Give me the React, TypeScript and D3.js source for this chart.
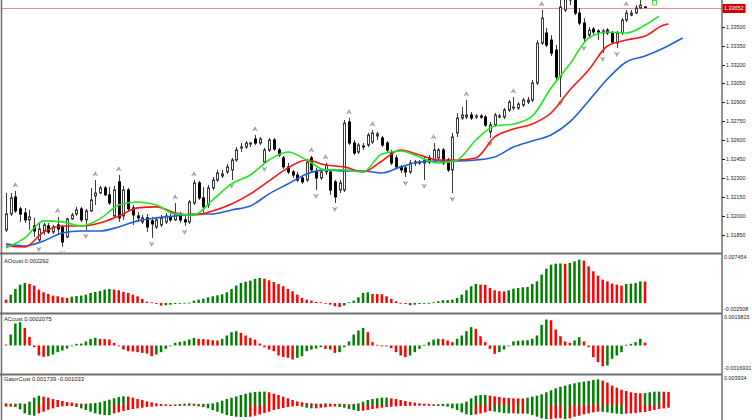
import { useMemo } from 'react';
import * as d3 from 'd3';

const size = { width: 752, height: 420 };
const AXIS_X = 722;

// vertical bands of the four windows
const panel = {
  main: { top: 0, bottom: 252 },
  ao: { top: 255, bottom: 312 },
  ac: { top: 315, bottom: 373 },
  gator: { top: 376, bottom: 420 },
};

const color = {
  bull: '#ffffff',
  bear: '#000000',
  wick: '#3a3a3a',
  up: '#008000',
  down: '#ff0000',
  jaw: '#1f5fd8',
  teeth: '#ff1414',
  lips: '#22e622',
  frame: '#6e6e6e',
  fractal: '#a8a8a8',
  bid: '#f08a8a',
  text: '#1a1a1a',
};

// ---- price data (one value per bar) ----
const open = [
  1.31889, 1.32016, 1.32151, 1.32056, 1.32024, 1.31969, 1.31921, 1.3181, 1.31881, 1.31921,
  1.31873, 1.31929, 1.31913, 1.31834, 1.31977, 1.32016, 1.32056, 1.31969, 1.3204, 1.32159,
  1.32182, 1.32222, 1.32167, 1.32, 1.3227, 1.32, 1.32206, 1.32064, 1.32, 1.31953,
  1.31985, 1.31961, 1.31913, 1.31929, 1.31953, 1.31993, 1.31969, 1.32008, 1.31969, 1.31953,
  1.32103, 1.32262, 1.32143, 1.32087, 1.32222, 1.32285, 1.32317, 1.32349, 1.32365, 1.32444,
  1.32539, 1.32547, 1.3257, 1.3261, 1.32578, 1.32428, 1.32523, 1.32602, 1.32523, 1.3246,
  1.32389, 1.32349, 1.32325, 1.32301, 1.32285, 1.3246, 1.32349, 1.32301, 1.32349, 1.32349,
  1.3227, 1.32206, 1.32206, 1.32745, 1.32578, 1.32507, 1.32554, 1.32562, 1.32586, 1.32634,
  1.32618, 1.32578, 1.32499, 1.3246, 1.32389, 1.32381, 1.32349, 1.32428, 1.32428, 1.3242,
  1.3246, 1.32444, 1.3246, 1.32523, 1.32444, 1.32365, 1.32658, 1.32776, 1.32784, 1.328,
  1.32784, 1.32792, 1.32784, 1.32666, 1.32721, 1.32784, 1.32784, 1.3284, 1.32856, 1.32856,
  1.32879, 1.32903, 1.32919, 1.33054, 1.3337, 1.3345, 1.33394, 1.33315, 1.33101, 1.33632,
  1.33711, 1.33751, 1.33608, 1.33529, 1.33434, 1.33481, 1.33466, 1.3345, 1.33473, 1.3345,
  1.3337, 1.3345, 1.33553, 1.33592, 1.33608, 1.33648, 1.33656,
];
const high = [
  1.32182, 1.32182, 1.32198, 1.32072, 1.32064, 1.32048, 1.31985, 1.31945, 1.31945, 1.31945,
  1.31929, 1.31993, 1.31929, 1.31985, 1.32024, 1.32072, 1.32072, 1.32056, 1.32222, 1.32285,
  1.32238, 1.32238, 1.3223, 1.32238, 1.32325, 1.32238, 1.32222, 1.32087, 1.32032, 1.32008,
  1.32016, 1.31993, 1.31993, 1.32008, 1.32024, 1.32032, 1.32103, 1.32032, 1.32016, 1.32127,
  1.32285, 1.32278, 1.3223, 1.32246, 1.32309, 1.32365, 1.32365, 1.32412, 1.3246, 1.32547,
  1.32578, 1.32594, 1.32586, 1.32642, 1.32626, 1.32539, 1.32618, 1.32618, 1.32539, 1.32476,
  1.3242, 1.32365, 1.32349, 1.32317, 1.32444, 1.32476, 1.32381, 1.32365, 1.3242, 1.32365,
  1.32285, 1.32285, 1.32761, 1.32776, 1.32602, 1.32578, 1.32578, 1.32658, 1.32681, 1.32666,
  1.32634, 1.32594, 1.32523, 1.32483, 1.32404, 1.32396, 1.32444, 1.32444, 1.32444, 1.32468,
  1.32483, 1.32578, 1.32539, 1.32539, 1.3246, 1.32658, 1.32816, 1.32864, 1.32919, 1.32824,
  1.32808, 1.32808, 1.328, 1.32745, 1.32816, 1.32808, 1.32856, 1.32919, 1.32943, 1.32903,
  1.32935, 1.32943, 1.33077, 1.33394, 1.33632, 1.33489, 1.33434, 1.33355, 1.33711, 1.3383,
  1.33869, 1.33806, 1.33648, 1.33568, 1.33497, 1.33497, 1.33481, 1.33481, 1.33489, 1.33466,
  1.33466, 1.33568, 1.33632, 1.33632, 1.33671, 1.33727, 1.33663,
];
const low = [
  1.31873, 1.32, 1.32024, 1.31953, 1.31945, 1.31889, 1.31834, 1.31786, 1.3185, 1.31858,
  1.31858, 1.31858, 1.31755, 1.31826, 1.31969, 1.32, 1.31953, 1.31889, 1.32032, 1.32087,
  1.32175, 1.32159, 1.32087, 1.31985, 1.31953, 1.31969, 1.32032, 1.31929, 1.31953, 1.31937,
  1.31873, 1.31826, 1.31897, 1.31913, 1.31937, 1.31953, 1.31961, 1.31945, 1.31921, 1.31937,
  1.32087, 1.32127, 1.32024, 1.32064, 1.32206, 1.3227, 1.32301, 1.32333, 1.32285, 1.32428,
  1.32507, 1.32531, 1.32547, 1.32562, 1.32562, 1.3242, 1.32507, 1.32515, 1.32468, 1.32373,
  1.32333, 1.32301, 1.3227, 1.32254, 1.3227, 1.32341, 1.32206, 1.32285, 1.32325, 1.32167,
  1.32103, 1.32182, 1.3219, 1.32562, 1.32483, 1.32491, 1.32523, 1.32547, 1.3257, 1.32602,
  1.32547, 1.32507, 1.32404, 1.32373, 1.32341, 1.32309, 1.32333, 1.32396, 1.32404, 1.32285,
  1.32412, 1.32428, 1.32444, 1.32404, 1.32349, 1.32182, 1.32626, 1.32761, 1.32768, 1.32761,
  1.32768, 1.32768, 1.32705, 1.32618, 1.32705, 1.32776, 1.32768, 1.32824, 1.3284, 1.3284,
  1.32864, 1.32887, 1.32903, 1.33038, 1.33355, 1.33339, 1.33268, 1.33077, 1.32943, 1.33616,
  1.33671, 1.33592, 1.33513, 1.33378, 1.33418, 1.33434, 1.33394, 1.33291, 1.33434, 1.33363,
  1.33331, 1.33434, 1.33537, 1.33584, 1.336, 1.3364, 1.33648,
];
const close = [
  1.32016, 1.32143, 1.3204, 1.32016, 1.31969, 1.31993, 1.31881, 1.31897, 1.31929, 1.31873,
  1.31913, 1.31897, 1.31794, 1.31977, 1.32008, 1.32048, 1.31969, 1.3204, 1.32127, 1.32182,
  1.32222, 1.32167, 1.32103, 1.32206, 1.31985, 1.32206, 1.32056, 1.32008, 1.31985, 1.31985,
  1.31913, 1.31937, 1.31969, 1.31985, 1.32, 1.31969, 1.32016, 1.31969, 1.31953, 1.32111,
  1.32262, 1.32143, 1.32072, 1.32222, 1.32285, 1.32341, 1.32333, 1.32389, 1.32444, 1.32523,
  1.32547, 1.32578, 1.32578, 1.32578, 1.3261, 1.32523, 1.32602, 1.32531, 1.32483, 1.32389,
  1.32349, 1.32325, 1.32285, 1.3227, 1.32428, 1.32365, 1.32301, 1.32349, 1.32404, 1.32206,
  1.32151, 1.32262, 1.32737, 1.32578, 1.32499, 1.32562, 1.32547, 1.32642, 1.32658, 1.3265,
  1.32562, 1.32523, 1.3242, 1.32389, 1.32365, 1.32349, 1.3242, 1.3242, 1.3242, 1.32444,
  1.32428, 1.32523, 1.32523, 1.3242, 1.32365, 1.32626, 1.32776, 1.328, 1.328, 1.32776,
  1.32792, 1.32784, 1.32721, 1.32721, 1.328, 1.32792, 1.3284, 1.32903, 1.32864, 1.32887,
  1.32919, 1.32919, 1.33054, 1.3337, 1.33568, 1.33355, 1.33291, 1.33101, 1.33656, 1.33751,
  1.3379, 1.33608, 1.33529, 1.3341, 1.33473, 1.33458, 1.33458, 1.33466, 1.3345, 1.33378,
  1.3345, 1.33553, 1.33608, 1.33608, 1.33648, 1.33671, 1.33652,
];

const bidPrice = 1.33652;
const priceTicks = [1.335, 1.3335, 1.332, 1.3305, 1.329, 1.3275, 1.326, 1.3245, 1.323, 1.3215, 1.32, 1.3185];

// bar numbers carrying a fractal mark
const upFractals = [2, 11, 19, 24, 36, 40, 53, 65, 68, 73, 78, 91, 98, 108, 114, 132];
const downFractals = [7, 12, 17, 31, 38, 48, 55, 66, 70, 85, 89, 95, 103, 118, 123, 127, 130];

// Alligator lines, read every 4th bar; the last value sits on the shifted end bar
const ALLIGATOR_STEP = 4;
const jaw = [
  1.31779, 1.31762, 1.31802, 1.31865, 1.31881, 1.31881, 1.31913, 1.31961, 1.31985, 1.32,
  1.32016, 1.32016, 1.32048, 1.32079, 1.32175, 1.32254, 1.32333, 1.32365, 1.32357, 1.32357,
  1.32341, 1.32389, 1.32428, 1.32436, 1.32436, 1.32444, 1.32468, 1.32547, 1.32594, 1.32642,
  1.32745, 1.32911, 1.33085, 1.3322, 1.33267, 1.33331, 1.3341,
];
const teeth = [
  1.31762, 1.31755, 1.31873, 1.31921, 1.31921, 1.31945, 1.32, 1.32064, 1.32072, 1.32024,
  1.32008, 1.3204, 1.32095, 1.32175, 1.32278, 1.32381, 1.32444, 1.32404, 1.32389, 1.32349,
  1.32436, 1.32523, 1.32483, 1.32444, 1.32444, 1.3246, 1.32626, 1.32689, 1.32729, 1.32816,
  1.32998, 1.33157, 1.33347, 1.33394, 1.33426, 1.33513, 1.33521,
];
const lips = [
  1.31747, 1.31826, 1.31961, 1.31953, 1.31921, 1.31977, 1.32087, 1.32111, 1.32087, 1.32016,
  1.32008, 1.32127, 1.32254, 1.32325, 1.32444, 1.32507, 1.32444, 1.32365, 1.32365, 1.32349,
  1.32491, 1.32515, 1.32468, 1.3242, 1.32444, 1.32602, 1.32713, 1.32729, 1.32792, 1.33014,
  1.33204, 1.3341, 1.33458, 1.3345, 1.33513, 1.33584,
];
const shifts = { jaw: 8, teeth: 5, lips: 3 };

// ---- indicator windows ----
const aoValues = [
  0.00057, 0.00143, 0.00241, 0.00315, 0.00344, 0.00327, 0.00298, 0.00229, 0.00183, 0.00155,
  0.00126, 0.00115, 0.00097, 0.00086, 0.00109, 0.0012, 0.00126, 0.00143, 0.00172, 0.00189,
  0.00206, 0.00229, 0.00241, 0.00229, 0.00218, 0.00189, 0.00172, 0.00143, 0.00115, 0.00069,
  0.00023, 0.00011, -0.00017, -0.00046, -0.0004, -0.00029, -0.00017, -0.00006, 0.00003, 0.00006,
  0.0004, 0.00057, 0.00074, 0.00097, 0.00115, 0.00132, 0.00149, 0.00183, 0.00241, 0.00298,
  0.00344, 0.00367, 0.00384, 0.00413, 0.0043, 0.00418, 0.0039, 0.00361, 0.00327, 0.00287,
  0.00241, 0.00201, 0.00143, 0.00086, 0.00057, 0.0004, 0.00017, 0.00011, -0.00002, -0.00029,
  -0.00057, -0.00069, -0.00046, 0.00011, 0.0004, 0.00097, 0.00172, 0.00183, 0.00155, 0.00153,
  0.0015, 0.00115, 0.00069, 0.00029, 0.00002, -0.00017, -0.0004, -0.00029, -0.00017, -0.00011,
  0.00001, 0.00011, 0.00029, 0.00046, 0.00048, 0.00057, 0.00086, 0.00143, 0.00218, 0.00287,
  0.00327, 0.00315, 0.00312, 0.00258, 0.00218, 0.00201, 0.00198, 0.00218, 0.00246, 0.00258,
  0.00269, 0.00275, 0.00327, 0.00372, 0.00487, 0.0059, 0.00659, 0.00676, 0.0068, 0.00674,
  0.00688, 0.00716, 0.00745, 0.00728, 0.0063, 0.00544, 0.0047, 0.00401, 0.00372, 0.00332,
  0.00315, 0.00298, 0.00327, 0.00332, 0.00344, 0.00372, 0.00367,
];
const acValues = [
  0.00007, 0.00079, 0.00158, 0.00168, 0.00127, 0.00062, -0.00012, -0.00072, -0.00082, -0.00077,
  -0.00065, -0.00048, -0.00036, -0.00022, -0.00005, 0.00012, 0.00014, 0.00029, 0.00048, 0.00055,
  0.00048, 0.00046, 0.00043, 0.00019, -0.00005, -0.00029, -0.00041, -0.00043, -0.00048, -0.00053,
  -0.00058, -0.00077, -0.00065, -0.00048, -0.00024, -0.00005, 0.00019, 0.00026, 0.00031, 0.00043,
  0.00055, 0.00048, 0.00046, 0.00043, 0.00038, 0.00036, 0.00048, 0.00072, 0.00096, 0.00103,
  0.00091, 0.00072, 0.00055, 0.00043, 0.00014, -0.00012, -0.00029, -0.00041, -0.00072, -0.00082,
  -0.00089, -0.00101, -0.00089, -0.00077, -0.00041, -0.00029, -0.00022, -0.00012, -0.00024, -0.00029,
  -0.00053, -0.00048, -0.00012, 0.00029, 0.00079, 0.00108, 0.00127, 0.00096, 0.00024, 0.00005,
  0.0, -0.00007, -0.00019, -0.00048, -0.00072, -0.00084, -0.00072, -0.00048, -0.00024, 0.00005,
  0.00024, 0.00043, 0.00048, 0.00046, 0.00036, 0.00024, 0.00048, 0.00072, 0.00103, 0.00132,
  0.0012, 0.00067, 0.00024, -0.00024, -0.0006, -0.00048, -0.00029, -0.00005, 0.00029, 0.00034,
  0.00036, 0.00038, 0.00048, 0.00072, 0.00149, 0.00187, 0.00182, 0.00115, 0.00067, 0.00029,
  0.00019, 0.00036, 0.0006, 0.00029, -0.00012, -0.00084, -0.0012, -0.00149, -0.00144, -0.00096,
  -0.00072, -0.00048, 0.00005, 0.00012, 0.00024, 0.00048, 0.00021,
];
const gatorUpper = [
  0.00024, 0.00019, 0.00019, 0.00024, 0.00019, 0.00049, 0.00107, 0.00136, 0.00122, 0.00107,
  0.00087, 0.00073, 0.00058, 0.00044, 0.00034, 0.00024, 0.00019, 0.00019, 0.00024, 0.00029,
  0.00039, 0.00058, 0.00078, 0.00097, 0.00117, 0.00126, 0.00122, 0.00107, 0.00087, 0.00073,
  0.00053, 0.00039, 0.00024, 0.00015, 0.0001, 0.00005, 0.0001, 0.00015, 0.00019, 0.00024,
  0.00019, 0.00015, 0.00015, 0.00019, 0.00024, 0.00039, 0.00063, 0.00087, 0.00107, 0.00126,
  0.00146, 0.00165, 0.0018, 0.0019, 0.00194, 0.00195, 0.00185, 0.00165, 0.00146, 0.00122,
  0.00097, 0.00073, 0.00053, 0.00039, 0.00029, 0.00024, 0.00019, 0.00019, 0.00024, 0.00019,
  0.00015, 0.00019, 0.00015, 0.0001, 0.00015, 0.00024, 0.00049, 0.00073, 0.00087, 0.00097,
  0.00107, 0.00108, 0.00097, 0.00087, 0.00073, 0.00058, 0.00044, 0.00034, 0.00024, 0.00019,
  0.00015, 0.0001, 0.0001, 0.00015, 0.00019, 0.0002, 0.00021, 0.00024, 0.00049, 0.00097,
  0.00136, 0.00146, 0.00147, 0.00136, 0.00126, 0.00117, 0.00107, 0.00102, 0.00097, 0.00096,
  0.00095, 0.00107, 0.00122, 0.00136, 0.00156, 0.00185, 0.00214, 0.00243, 0.00267, 0.00282,
  0.00301, 0.00316, 0.0033, 0.0034, 0.0035, 0.00365, 0.00374, 0.00355, 0.00326, 0.00282,
  0.00253, 0.00224, 0.00204, 0.00185, 0.00175, 0.0017, 0.00174, 0.00185, 0.00194, 0.00195,
  0.00194, 0.0019,
];
const gatorLower = [
  -0.00024, -0.00025, -0.00029, -0.00063, -0.00122, -0.00146, -0.00156, -0.00122, -0.00097, -0.00068,
  -0.00049, -0.00029, -0.00019, -0.00015, -0.00014, -0.00029, -0.00049, -0.00073, -0.00097, -0.00122,
  -0.00136, -0.00146, -0.00147, -0.00122, -0.00107, -0.00087, -0.00073, -0.00058, -0.00049, -0.00039,
  -0.00029, -0.00024, -0.00019, -0.00015, -0.0001, -0.00015, -0.0001, -0.00009, -0.00008, -0.00005,
  -0.0001, -0.00019, -0.00029, -0.00049, -0.00073, -0.00097, -0.00122, -0.00146, -0.0016, -0.0017,
  -0.00175, -0.00176, -0.0017, -0.00156, -0.00136, -0.00117, -0.00097, -0.00073, -0.00058, -0.00044,
  -0.00029, -0.00019, -0.00015, -0.00024, -0.00039, -0.00049, -0.00048, -0.00039, -0.00034, -0.00024,
  -0.00023, -0.00029, -0.00039, -0.00058, -0.00073, -0.00087, -0.00083, -0.00073, -0.00058, -0.00049,
  -0.00039, -0.00029, -0.00024, -0.00019, -0.00015, -0.00014, -0.0001, -0.00009, -0.00008, -0.00005,
  -0.00004, -0.0001, -0.00015, -0.00016, -0.00024, -0.00049, -0.00073, -0.00107, -0.00136, -0.00146,
  -0.00136, -0.00122, -0.00107, -0.00087, -0.00097, -0.00107, -0.00117, -0.00122, -0.00121, -0.00126,
  -0.00125, -0.00127, -0.00146, -0.0017, -0.00194, -0.00204, -0.00203, -0.00194, -0.00193, -0.00204,
  -0.00194, -0.0017, -0.00156, -0.00136, -0.00122, -0.00107, -0.00097, -0.00098, -0.00107, -0.00117,
  -0.00126, -0.00131, -0.00126, -0.00122, -0.00117, -0.00107, -0.00103, -0.00087, -0.00073, -0.00058,
  -0.00049, -0.00039,
];

const titles = ['AOcust 0.002292', 'ACcust 0.0002075', 'GatorCust 0.001739 -0.001033'];
const aoScaleLabels = ['0.007454', '-0.002508'];
const acScaleLabels = ['0.0019815', '-0.0016931'];
const gatorScaleLabels = ['0.003934'];

const FONT = '"Liberation Sans", Arial, sans-serif';

// green when the bar grew against the one before it, red otherwise
const barColor = (vals: number[], i: number) =>
  i > 0 && Math.abs(vals[i]) > Math.abs(vals[i - 1]) ? color.up : color.down;
const signedColor = (vals: number[], i: number) => (i > 0 && vals[i] > vals[i - 1] ? color.up : color.down);

const App = () => {
  const lastBar = close.length - 1;

  const xScale = useMemo(() => d3.scaleLinear().domain([0, 136]).range([6, 645]), []);
  const yPrice = useMemo(() => d3.scaleLinear().domain([1.3185, 1.335]).range([234.9, 26.7]), []);
  const yAO = useMemo(() => d3.scaleLinear().domain([-0.0008, 0.0076]).range([307.6, 258.8]), []);
  const yAC = useMemo(() => d3.scaleLinear().domain([-0.0016931, 0.0019815]).range([369, 318]), []);
  const yGator = useMemo(() => d3.scaleLinear().domain([-0.003, 0.003934]).range([425.6, 378]), []);

  const px = (i: number) => Math.round(xScale(i)) + 0.5;

  const alligatorPath = (vals: number[], shift: number) => {
    const end = lastBar + shift;
    const line = d3
      .line<number>()
      .curve(d3.curveMonotoneX)
      .x((_, j) => xScale(j === vals.length - 1 ? end : j * ALLIGATOR_STEP))
      .y(v => yPrice(v));
    return line(vals) || '';
  };

  const histogram = (vals: number[], y: d3.ScaleLinear<number, number>, fill: (i: number) => string) =>
    vals.map((v, i) => {
      const y0 = y(0);
      const y1 = y(v);
      return (
        <rect
          key={i}
          x={xScale(i) - 1.25}
          y={Math.min(y0, y1)}
          width={2.5}
          height={Math.max(Math.abs(y1 - y0), 0.8)}
          fill={fill(i)}
        />
      );
    });

  const fractalUp = 'M0,-3L3,2.5L0,1L-3,2.5Z';
  const fractalDown = 'M0,3L3,-2.5L0,-1L-3,-2.5Z';

  const bidY = Math.round(yPrice(bidPrice)) + 0.5;

  return (
    <div style={{ position: 'absolute', left: 0, top: 0 }}>
      <svg width={size.width} height={size.height} style={{ display: 'block', background: '#fff' }}>
        <defs>
          <clipPath id="clipMain">
            <rect x={2} y={panel.main.top} width={AXIS_X - 2} height={panel.main.bottom - panel.main.top} />
          </clipPath>
          <clipPath id="clipAO">
            <rect x={2} y={panel.ao.top} width={AXIS_X - 2} height={panel.ao.bottom - panel.ao.top} />
          </clipPath>
          <clipPath id="clipAC">
            <rect x={2} y={panel.ac.top} width={AXIS_X - 2} height={panel.ac.bottom - panel.ac.top} />
          </clipPath>
          <clipPath id="clipGator">
            <rect x={2} y={panel.gator.top} width={AXIS_X - 2} height={panel.gator.bottom - panel.gator.top} />
          </clipPath>
        </defs>

        {/* main window */}
        <g clipPath="url(#clipMain)">
          <line x1={0} x2={AXIS_X} y1={bidY} y2={bidY} stroke={color.bid} strokeWidth={1} />
          {close.map((c, i) => {
            const o = open[i];
            const x = px(i);
            const bull = c >= o;
            const top = yPrice(Math.max(o, c));
            const bot = yPrice(Math.min(o, c));
            return (
              <g key={i}>
                <line x1={x} x2={x} y1={yPrice(high[i])} y2={yPrice(low[i])} stroke={color.wick} strokeWidth={1} />
                <rect
                  x={x - 1}
                  y={top}
                  width={2}
                  height={Math.max(bot - top, 0.5)}
                  fill={bull ? color.bull : color.bear}
                  stroke={bull ? color.wick : color.bear}
                  strokeWidth={1}
                />
              </g>
            );
          })}
          {upFractals.map(i => (
            <path key={`u${i}`} d={fractalUp} transform={`translate(${xScale(i)},${yPrice(high[i]) - 6})`} fill={color.fractal} />
          ))}
          {downFractals.map(i => (
            <path key={`d${i}`} d={fractalDown} transform={`translate(${xScale(i)},${yPrice(low[i]) + 6})`} fill={color.fractal} />
          ))}
          <path d={alligatorPath(jaw, shifts.jaw)} fill="none" stroke={color.jaw} strokeWidth={1.6} />
          <path d={alligatorPath(teeth, shifts.teeth)} fill="none" stroke={color.teeth} strokeWidth={1.6} />
          <path d={alligatorPath(lips, shifts.lips)} fill="none" stroke={color.lips} strokeWidth={1.6} />
          <rect x={xScale(lastBar + 2) - 2} y={0.5} width={4} height={4.5} fill="none" stroke="#33cc33" strokeWidth={0.8} />
        </g>

        {/* indicator windows */}
        <g clipPath="url(#clipAO)">{histogram(aoValues, yAO, i => signedColor(aoValues, i))}</g>
        <g clipPath="url(#clipAC)">{histogram(acValues, yAC, i => signedColor(acValues, i))}</g>
        <g clipPath="url(#clipGator)">
          {histogram(gatorUpper, yGator, i => barColor(gatorUpper, i))}
          {histogram(gatorLower, yGator, i => barColor(gatorLower, i))}
        </g>

        {/* frame */}
        {[panel.main.bottom + 1.5, panel.ao.bottom + 1.5, panel.ac.bottom + 1.5].map(y => (
          <line key={y} x1={0} x2={AXIS_X} y1={y} y2={y} stroke={color.frame} strokeWidth={2} />
        ))}
        <line x1={1.5} x2={1.5} y1={0} y2={size.height} stroke={color.frame} strokeWidth={1.5} />
        <line x1={AXIS_X} x2={AXIS_X} y1={0} y2={size.height} stroke={color.frame} strokeWidth={1.5} />

        {/* price axis */}
        <g fontFamily={FONT} fontSize={5.4} fill={color.text}>
          {priceTicks.map(p => {
            const y = Math.round(yPrice(p)) + 0.5;
            return (
              <g key={p}>
                <line x1={AXIS_X} x2={AXIS_X + 3} y1={y} y2={y} stroke={color.text} strokeWidth={1} />
                <text x={AXIS_X + 4} y={y} dominantBaseline="middle">
                  {p.toFixed(5)}
                </text>
              </g>
            );
          })}
          <rect x={AXIS_X + 0.5} y={bidY - 4.5} width={23} height={9} fill="#d40000" />
          <text x={AXIS_X + 2} y={bidY} dominantBaseline="middle" fill="#fff">
            {bidPrice.toFixed(5)}
          </text>
        </g>

        {/* window scales and titles */}
        <g fontFamily={FONT} fontSize={5.4} fill={color.text}>
          <text x={AXIS_X + 2} y={panel.ao.top + 3} dominantBaseline="middle">{aoScaleLabels[0]}</text>
          <text x={AXIS_X + 2} y={panel.ao.bottom - 2.5} dominantBaseline="middle">{aoScaleLabels[1]}</text>
          <text x={AXIS_X + 2} y={panel.ac.top + 3} dominantBaseline="middle">{acScaleLabels[0]}</text>
          <text x={AXIS_X + 2} y={panel.ac.bottom - 4} dominantBaseline="middle">{acScaleLabels[1]}</text>
          <text x={AXIS_X + 2} y={panel.gator.top + 2.5} dominantBaseline="middle">{gatorScaleLabels[0]}</text>
          <text x={4} y={panel.ao.top + 6} dominantBaseline="middle" fontSize={5.8}>{titles[0]}</text>
          <text x={4} y={panel.ac.top + 4} dominantBaseline="middle" fontSize={5.8}>{titles[1]}</text>
          <text x={4} y={panel.gator.top + 3.5} dominantBaseline="middle" fontSize={5.8}>{titles[2]}</text>
        </g>
      </svg>
    </div>
  );
};

export default App;
